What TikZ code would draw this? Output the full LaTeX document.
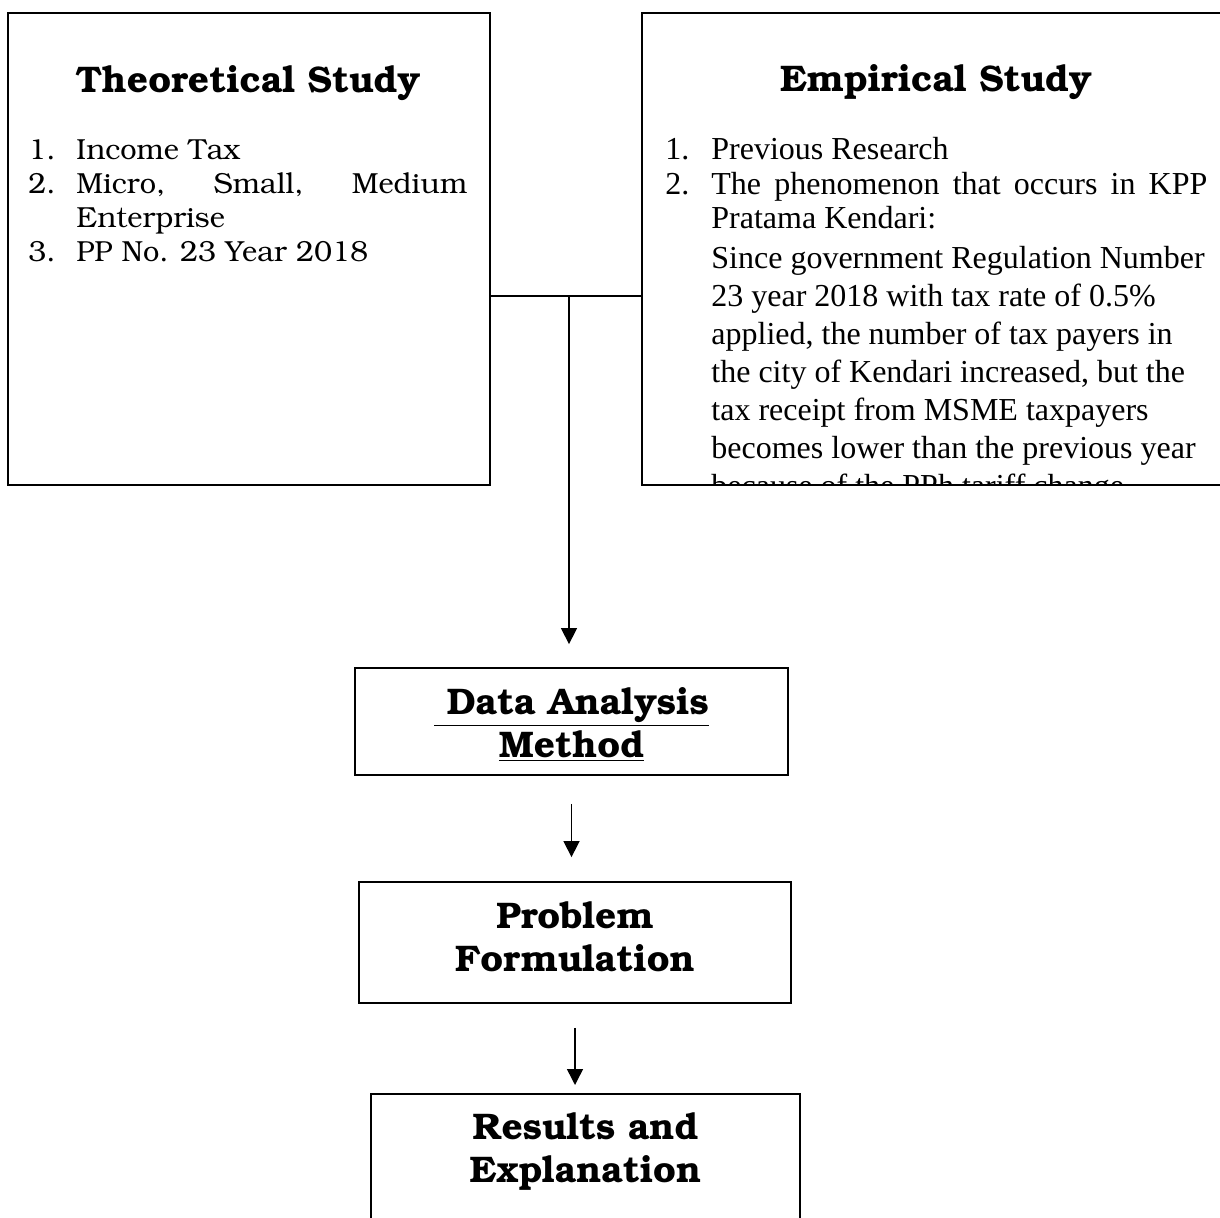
\documentclass[tikz,border=0pt]{standalone}
\usepackage[T1]{fontenc}
\usepackage{fontspec}
\newfontfamily\timesfont{Liberation Serif}
\newcommand\bkfont{\fontencoding{T1}\fontfamily{pbk}\selectfont}
\usetikzlibrary{arrows.meta,positioning}
\tikzset{
  box/.style={draw,line width=0.9pt},
  head/.style={font=\bkfont\bfseries\fontsize{18.5}{21.5}\selectfont,align=center},
  link/.style={line width=0.75pt},
  arr/.style={link,-{Triangle[length=8pt,width=8pt]}}
}
\begin{document}
\begin{tikzpicture}[x=0.5pt,y=-0.5pt]
\useasboundingbox (0,0) rectangle (1220,1218);
% top boxes
\node[box,anchor=north west,minimum width=241pt,minimum height=236pt] (theory) at (7,12) {};
\node[box,anchor=north west,minimum width=292pt,minimum height=236pt] (empirical) at (641,12) {};
\node[head] (theorytitle) at (248,84) {Theoretical Study};
\node[head] (empiricaltitle) at (936,83) {Empirical Study};
\node[anchor=base west,inner sep=0pt,font=\bkfont\fontsize{14.5}{17}\selectfont] (theorylist) at (28,160) {%
  \begin{tabular}[t]{@{}p{24pt}@{}p{195.5pt}@{}}
  1. & Income Tax\\
  2. & \makebox[195.5pt][s]{Micro, Small, Medium}\\
     & Enterprise\\
  3. & PP No. 23 Year 2018
  \end{tabular}};
\node[anchor=base west,inner sep=0pt,font=\timesfont\fontsize{16}{17.25}\selectfont] (empiricallist) at (665,160) {%
  \begin{tabular}[t]{@{}p{23pt}@{}p{248pt}@{}}
  1. & Previous Research\\
  2. & \makebox[248pt][s]{The phenomenon that occurs in KPP}\\
     & Pratama Kendari:
  \end{tabular}};
\begin{scope}
  \clip (641,12) rectangle (1225,484);
  \node[anchor=base west,inner sep=0pt,font=\timesfont\fontsize{16}{19}\selectfont] (phenomenon) at (711,269) {%
    \begin{tabular}[t]{@{}l@{}}
    Since government Regulation Number\\
    23 year 2018 with tax rate of 0.5\%\\
    applied, the number of tax payers in\\
    the city of Kendari increased, but the\\
    tax receipt from MSME taxpayers\\
    becomes lower than the previous year\\
    because of the PPh tariff change
    \end{tabular}};
\end{scope}
% flow boxes
\node[box,minimum width=216.5pt,minimum height=53.5pt] (analysis) at (571.5,721.5) {};
\node[head] (analysistext) at (571.5,724.5) {\underline{\ Data Analysis}\\\underline{Method}};
\node[box,minimum width=216pt,minimum height=60.5pt] (problem) at (575,942.5) {};
\node[head] (problemtext) at (575,937) {Problem\\Formulation};
\node[box,anchor=north,minimum width=214.5pt,minimum height=80pt] (results) at (585.5,1093) {};
\node[head] (resultstext) at (585.5,1151.5) {Results and\\Explanation};
% connectors
\coordinate (join) at (569,296);
\draw[link] (theory.east |- join) -- (empirical.west |- join);
\draw[arr,shorten >=11.5pt] (join) -- (join |- analysis.north);
\draw[arr,shorten <=14pt,shorten >=12pt] (analysis.south) -- (analysis.south |- problem.north);
\draw[arr,shorten <=12pt,shorten >=4pt] (problem.south) -- (problem.south |- results.north);
\end{tikzpicture}
\end{document}
